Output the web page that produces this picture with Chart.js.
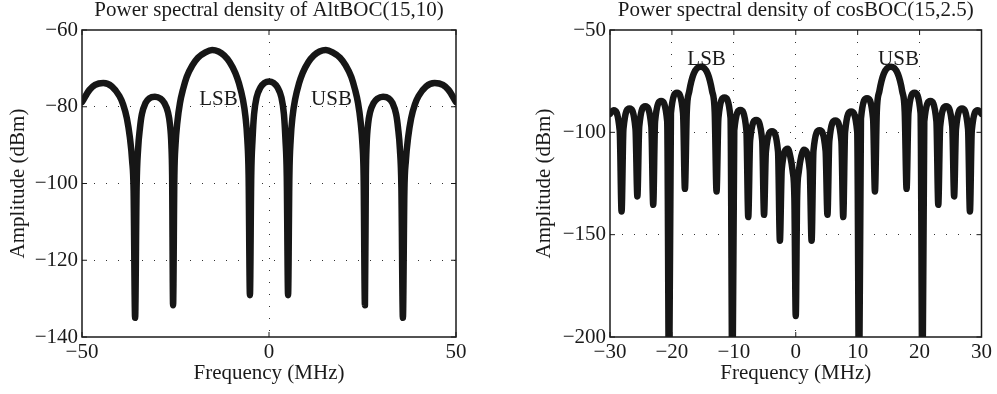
<!DOCTYPE html>
<html lang="en">
<head>
  <meta charset="UTF-8" />
  <title>Power spectral density of AltBOC(15,10) and cosBOC(15,2.5)</title>
  <script src="https://cdn.jsdelivr.net/npm/chart.js"></script>
  <style>
    body {
      margin: 0;
      background: #fff;
    }
    .box {
      position: absolute;
      top: 0;
      height: 394px;
    }
    #altBox { left: 0; width: 498px; }
    #cosBox { left: 500px; width: 497px; }
  </style>
</head>
<body>
  <div class="box" id="altBox"><canvas id="altChart" width="498" height="394"></canvas></div>
  <div class="box" id="cosBox"><canvas id="cosChart" width="497" height="394"></canvas></div>
  <script>
    // AltBOC(15,10): frequency (MHz) and amplitude (dBm)
    const freqAlt = [-50, -48, -46.5, -44.3, -42, -40, -39, -38, -37.2, -36.6, -36.2, -35.8,
      -35.4, -35, -34.5, -34, -33, -32, -30.5, -29, -28, -27, -26.5, -26.1, -25.9, -25.65,
      -25.3, -25, -24.5, -23.8, -23, -22, -20.5, -19, -17, -15.2, -13.5, -12, -10.5, -9, -8, -7,
      -6.3, -5.8, -5.45, -5.1, -4.75, -4.4, -4, -3.3, -2.3, -1.2, 0,
      1.2, 2.3, 3.3, 4, 4.4, 4.75, 5.1, 5.45, 5.8, 6.3, 7, 8, 9, 10.5, 12, 13.5, 15.2, 17, 19,
      20.5, 22, 23, 23.8, 24.5, 25, 25.3, 25.65, 25.9, 26.1, 26.5, 27, 28, 29, 30.5, 32, 33, 34,
      34.5, 35, 35.4, 35.8, 36.2, 36.6, 37.2, 38, 39, 40, 42, 44.3, 46.5, 48, 50];
    const psdAlt = [-78.8, -75.6, -74.3, -73.8, -74.7, -77.2, -79.4, -83, -88, -94, -102, -135,
      -101, -91, -85.5, -82, -79, -77.8, -77.4, -77.9, -79, -81.5, -84.5, -90, -98, -131.7,
      -98, -90, -84, -79, -75.5, -72.2, -69.2, -67.2, -65.8, -65.2, -65.6, -66.6, -68.4, -71.2, -74, -78,
      -82.5, -88.5, -98, -129.1, -98, -88.5, -82, -77.5, -75, -73.8, -73.4,
      -73.8, -75, -77.5, -82, -88.5, -98, -129.1, -98, -88.5, -82.5, -78, -74, -71.2, -68.4, -66.6, -65.6, -65.2, -65.8, -67.2,
      -69.2, -72.2, -75.5, -79, -84, -90, -98, -131.7, -98, -90, -84.5, -81.5, -79, -77.9, -77.4, -77.8, -79, -82,
      -85.5, -91, -101, -135, -102, -94, -88, -83, -79.4, -77.2, -74.7, -73.8, -74.3, -75.6, -78.8];

    // cosBOC(15,2.5): frequency (MHz) and amplitude (dBm)
    const freqCos = [-30, -29.41, -28.43, -28.13, -27.83, -26.85, -25.88, -25.58, -25.28, -24.3,
      -23.32, -23.02, -22.72, -21.74, -20.76, -20.46, -20.16, -19.18, -18.2, -17.9,
      -17.6, -17.2, -16.5, -15.35, -14.2, -13.5, -13.09, -12.79, -12.49, -11.51, -10.53, -10.23,
      -9.93, -8.95, -7.97, -7.67, -7.37, -6.39, -5.42, -5.12, -4.82, -3.84, -2.86, -2.56,
      -2.26, -1.28, -0.9, -0.5, -0.22, 0, 0.22, 0.5, 0.9, 1.28, 2.26, 2.56,
      2.86, 3.84, 4.82, 5.12, 5.42, 6.39, 7.37, 7.67, 7.97, 8.95, 9.93, 10.23,
      10.53, 11.51, 12.49, 12.79, 13.09, 13.5, 14.2, 15.35, 16.5, 17.2, 17.6, 17.9,
      18.2, 19.18, 20.16, 20.46, 20.76, 21.74, 22.72, 23.02, 23.32, 24.3, 25.28, 25.58,
      25.88, 26.85, 27.83, 28.13, 28.43, 29.41, 30];
    const psdCos = [-91, -89.2, -99.2, -138.7, -98.3, -88.3, -98.3, -131.3, -97.2, -87.2,
      -97.2, -135.4, -94.7, -84.7, -94.7, -230, -90.7, -80.7, -90.7, -127.6,
      -90, -80, -71.5, -68, -71.5, -80, -90, -128.9, -93, -83, -93, -230,
      -99.1, -89.1, -99.1, -141.4, -104, -94, -104, -140.3, -109.5, -99.5, -109.5, -153,
      -118, -108, -111.5, -119, -132, -189.7, -132, -119, -111.5, -108.5, -118.5, -153,
      -109, -99, -109, -140.3, -104.2, -94.2, -104.2, -141.4, -99.8, -89.8, -99.8, -230,
      -93.3, -83.3, -93.3, -128.9, -90, -80, -71.5, -68, -71.5, -80, -90, -127.6,
      -90.7, -80.7, -90.7, -230, -94.7, -84.7, -94.7, -135.4, -97.2, -87.2, -97.2, -131.3,
      -98.3, -88.3, -98.3, -138.7, -99.2, -89.2, -91];

    // tick values
    const altXTicks = [-50, 0, 50];
    const altYTicks = [-140, -120, -100, -80, -60];
    const cosXTicks = [-30, -20, -10, 0, 10, 20, 30];
    const cosYTicks = [-200, -150, -100, -50];

    // sideband labels, placed in data units
    const bandNames = ['LSB', 'USB'];
    const altBandX = [-13.5, 16.7];
    const altBandY = -78.2;
    const cosBandX = [-14.4, 16.6];
    const cosBandY = -64.2;

    const ink = '#1a1a1a';
    const serif = '"Liberation Serif", "Times New Roman", serif';
    const font21 = { family: serif, size: 21, weight: 'normal', lineHeight: 1 };

    const minus = v => String(v).replace('-', '\u2212');

    // axes box, inward tick marks (matlab style) and LSB/USB text
    const boxPlugin = {
      id: 'box',
      afterDatasetsDraw(chart, args, opts) {
        const { ctx, chartArea: a, scales: { x, y } } = chart;
        ctx.save();
        ctx.strokeStyle = ink;
        ctx.lineWidth = 1;
        ctx.beginPath();
        x.ticks.forEach(t => {
          const px = x.getPixelForValue(t.value);
          ctx.moveTo(px, a.bottom); ctx.lineTo(px, a.bottom - 5);
          ctx.moveTo(px, a.top); ctx.lineTo(px, a.top + 5);
        });
        y.ticks.forEach(t => {
          const py = y.getPixelForValue(t.value);
          ctx.moveTo(a.left, py); ctx.lineTo(a.left + 5, py);
          ctx.moveTo(a.right, py); ctx.lineTo(a.right - 5, py);
        });
        ctx.stroke();
        ctx.lineWidth = 1.5;
        ctx.strokeRect(a.left, a.top, a.width, a.height);

        ctx.font = '21px ' + serif;
        ctx.fillStyle = ink;
        ctx.textAlign = 'center';
        ctx.textBaseline = 'middle';
        opts.names.forEach((s, i) => {
          ctx.fillText(s, x.getPixelForValue(opts.xs[i]), y.getPixelForValue(opts.y));
        });
        ctx.restore();
      }
    };

    function gridColor(ticks) {
      const lo = ticks[0], hi = ticks[ticks.length - 1];
      return c => (c.tick && (c.tick.value === lo || c.tick.value === hi)) ? 'rgba(0,0,0,0)' : '#333';
    }

    function psdChart(id, title, freq, psd, xTicks, yTicks, bandX, bandY, yWidth, rightPad, yTitlePad) {
      return new Chart(document.getElementById(id), {
        type: 'line',
        data: {
          datasets: [{
            data: freq.map((f, i) => ({ x: f, y: psd[i] })),
            borderColor: '#161616',
            borderWidth: 6.5,
            pointRadius: 0,
            cubicInterpolationMode: 'monotone',
            borderJoinStyle: 'round',
            borderCapStyle: 'round',
            clip: 0
          }]
        },
        options: {
          responsive: false,
          animation: false,
          layout: { padding: { left: 0, right: rightPad, top: 0, bottom: 0 } },
          plugins: {
            legend: { display: false },
            tooltip: { enabled: false },
            title: {
              display: true,
              text: title,
              fullSize: false,
              color: ink,
              font: font21,
              padding: { top: 0, bottom: 9 }
            },
            box: { names: bandNames, xs: bandX, y: bandY }
          },
          scales: {
            x: {
              type: 'linear',
              min: xTicks[0],
              max: xTicks[xTicks.length - 1],
              afterBuildTicks: s => { s.ticks = xTicks.map(v => ({ value: v })); },
              afterFit: s => { s.height = 57; },
              grid: { drawTicks: false, color: gridColor(xTicks), lineWidth: 1 },
              border: { display: false, dash: [1, 11] },
              ticks: { padding: 5, color: ink, font: font21, callback: v => minus(v) },
              title: {
                display: true,
                text: 'Frequency (MHz)',
                color: ink,
                font: font21,
                padding: { top: 0, bottom: 10.5 }
              }
            },
            y: {
              type: 'linear',
              min: yTicks[0],
              max: yTicks[yTicks.length - 1],
              afterBuildTicks: s => { s.ticks = yTicks.map(v => ({ value: v })); },
              afterFit: s => { s.width = yWidth; },
              grid: { drawTicks: false, color: gridColor(yTicks), lineWidth: 1 },
              border: { display: false, dash: [1, 11] },
              ticks: { padding: 4, color: ink, font: font21, callback: v => minus(v) },
              title: {
                display: true,
                text: 'Amplitude (dBm)',
                color: ink,
                font: font21,
                padding: { top: yTitlePad, bottom: 0 }
              }
            }
          }
        },
        plugins: [boxPlugin]
      });
    }

    psdChart('altChart', 'Power spectral density of AltBOC(15,10)', freqAlt, psdAlt,
      altXTicks, altYTicks, altBandX, altBandY, 82, 42, 7.5);
    psdChart('cosChart', 'Power spectral density of cosBOC(15,2.5)', freqCos, psdCos,
      cosXTicks, cosYTicks, cosBandX, cosBandY, 110, 14, 33.5);
  </script>
</body>
</html>
